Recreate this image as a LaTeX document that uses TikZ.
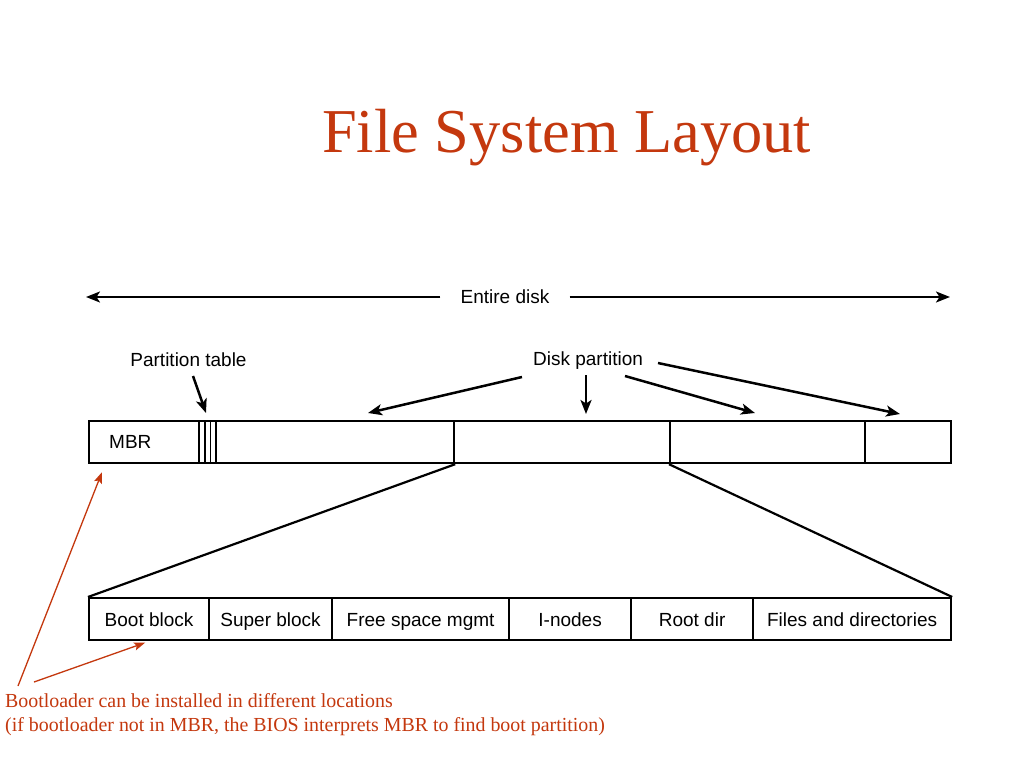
\documentclass[tikz,border=0pt]{standalone}
\usepackage{fontspec}
\setmainfont{Liberation Serif}
\setsansfont{Liberation Sans}
\usetikzlibrary{arrows.meta,calc}
\definecolor{mred}{RGB}{196,56,14}
\begin{document}
\begin{tikzpicture}[x=1pt,y=-1pt,
  cell/.style={draw=black,line width=2.2pt,minimum height=42pt,inner sep=0pt,anchor=north west},
  lbl/.style={inner sep=0pt,font=\sffamily\fontsize{19}{22}\selectfont},
  celltxt/.style={lbl,anchor=base},
  blk/.style={line width=2.5pt,-{Stealth[length=14pt,width=11pt,inset=3.5pt]}},
  fan/.style={line width=2.2pt},
  redarr/.style={draw=mred,line width=1.3pt,-{Stealth[length=11pt,width=8pt,inset=2pt]}},
  redtxt/.style={text=mred,inner sep=0pt,anchor=base west,font=\fontsize{19.9}{24}\selectfont}]
\useasboundingbox[fill=white] (0,0) rectangle (1024,768);

% title
\node[text=mred,inner sep=0pt,anchor=base west,font=\fontsize{62.4}{70}\selectfont] (title) at (322,152) {File System Layout};

% entire disk
\node[lbl,inner xsep=20pt] (ed) at (505,297) {Entire disk};
\coordinate (edl) at (86,297);
\coordinate (edr) at (950,297);
\draw[blk,line width=2.3pt] (ed.west) -- (edl);
\draw[blk,line width=2.3pt] (ed.east) -- (edr);

% top bar
\node[cell,minimum width=110pt] (mbr) at (88,420) {};
\node[lbl,anchor=base west] (mbrt) at (109,448) {MBR};
\node[cell,minimum width=6pt,line width=1.8pt] (pt1) at (198,420) {};
\node[cell,minimum width=5.5pt,line width=1.8pt] (pt2) at (204,420) {};
\node[cell,minimum width=5.5pt,line width=1.8pt] (pt3) at (209.5,420) {};
\node[cell,minimum width=238pt] (p1) at (215,420) {};
\node[cell,minimum width=216pt] (p2) at (453,420) {};
\node[cell,minimum width=195pt] (p3) at (669,420) {};
\node[cell,minimum width=86pt] (p4) at (864,420) {};

% partition table label
\node[lbl,anchor=base] (ptl) at (188.5,366) {Partition table};
\coordinate (pttip) at (206,413);
\draw[blk] (193,376) -- (pttip);

% disk partition label
\node[lbl,anchor=base] (dp) at (588,365) {Disk partition};
\coordinate (t1) at (368,413);
\coordinate (t2) at (586,414);
\coordinate (t3) at (755,413);
\coordinate (t4) at (900,414);
\draw[blk] (522,377) -- (t1);
\draw[blk] (586,375) -- (t2);
\draw[blk] (625,376) -- (t3);
\draw[blk] (658,363) -- (t4);

% lower bar
\node[cell,minimum width=120pt] (boot) at (88,597) {};
\node[cell,minimum width=123pt] (super) at (208,597) {};
\node[cell,minimum width=177pt] (free) at (331,597) {};
\node[cell,minimum width=122pt] (inodes) at (508,597) {};
\node[cell,minimum width=122pt] (root) at (630,597) {};
\node[cell,minimum width=198pt] (files) at (752,597) {};
\node[celltxt] at ([yshift=-7pt]boot.center) {Boot block};
\node[celltxt] at ([yshift=-7pt]super.center) {Super block};
\node[celltxt] at ([yshift=-7pt]free.center) {Free space mgmt};
\node[celltxt] at ([yshift=-7pt]inodes.center) {I-nodes};
\node[celltxt] at ([yshift=-7pt]root.center) {Root dir};
\node[celltxt] at ([yshift=-7pt]files.center) {Files and directories};

% fan lines
\draw[fan] (p1.south east) -- (boot.north west);
\draw[fan] (p3.south west) -- (files.north east);

% red note
\node[redtxt] (n1) at (5,707) {Bootloader can be installed in different locations};
\node[redtxt] (n2) at (5,731) {(if bootloader not in MBR, the BIOS interprets MBR to find boot partition)};
\coordinate (r1) at (18,686);
\coordinate (r2) at (34,682);
\draw[redarr] (r1) -- ([xshift=14pt,yshift=-8pt]mbr.south west);
\draw[redarr] (r2) -- ([xshift=-4pt,yshift=-1.5pt]boot.south);
\end{tikzpicture}
\end{document}
